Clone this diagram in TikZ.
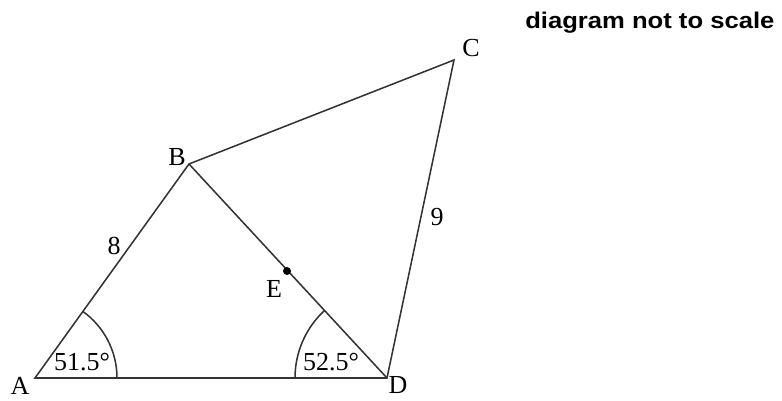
\documentclass[tikz,border=0pt]{standalone}
\usepackage{fontspec}
\setmainfont{Liberation Serif}
\newfontfamily\notefont{Liberation Sans}
\usetikzlibrary{angles, positioning}

\begin{document}
\begin{tikzpicture}[
    x=0.75pt, y=0.75pt,
    edge/.style={line width=1.15pt, draw=black!80},
    vlabel/.style={inner sep=0pt, font=\fontsize{19.5}{22}\selectfont},
    anglemark/.style={draw, line width=1.15pt, draw=black!80}
]
\useasboundingbox (0,0) rectangle (782,400);

% vertices
\coordinate (A) at (35,22);
\coordinate (D) at (387,22);
\coordinate (B) at (189,236);
\coordinate (C) at (454,340);
\coordinate (E) at (287,129);

\draw [edge, line join=miter] (A) -- (B) -- (C) -- (D) -- cycle;
\draw [edge] (B) -- (D);
\fill (E) circle (4);

% angles
\pic [anglemark, angle radius=61.5pt] {angle=D--A--B};
\pic [anglemark, angle radius=69pt] {angle=B--D--A};

\node (la) [vlabel] at (20,14) {A};
\node (ld) [vlabel] at (398,15) {D};
\node (lb) [vlabel] at (177,243) {B};
\node (lc) [vlabel] at (471,352) {C};
\node (le) [vlabel] at (274,111) {E};
\node (l8) [vlabel] at (114,154) {8};
\node (l9) [vlabel] at (437,183) {9};
\node (aa) [vlabel] at (82,38) {51.5°};
\node (ad) [vlabel] at (331,38) {52.5°};

\node (note) [anchor=base west, inner sep=0pt, xscale=1.13, font=\notefont\bfseries\fontsize{17}{20}\selectfont] at (525,371) {diagram not to scale};

\end{tikzpicture}
\end{document}
